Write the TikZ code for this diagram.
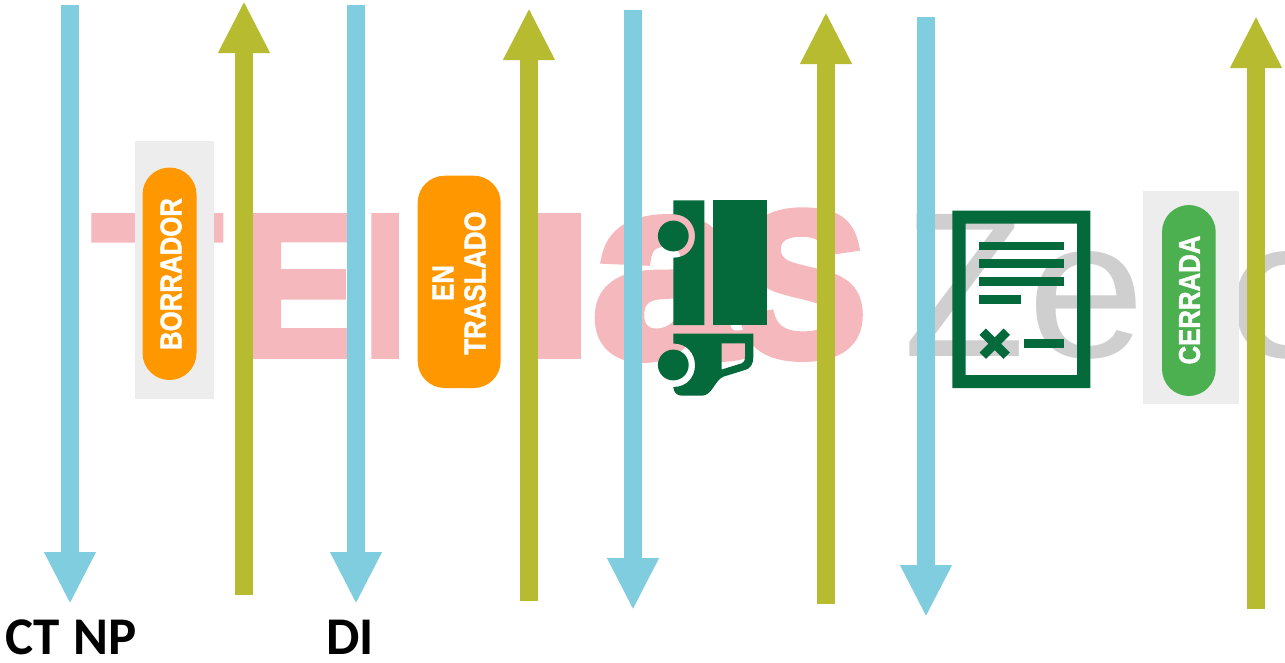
\documentclass[tikz,border=0pt]{standalone}
\usepackage{graphicx}
\usepackage{fontspec}
\setmainfont{Liberation Sans}[BoldFont={Liberation Sans Bold}]
\newfontfamily\heavyfont{Liberation Sans Bold}[FakeBold=4]
\newfontfamily\statusfont{Liberation Sans Bold}[FakeBold=1.5]
\newfontfamily\labelfont{Carlito}
\usetikzlibrary{arrows.meta}
\definecolor{flowblue}{HTML}{7FCDDE}
\definecolor{flowolive}{HTML}{B6BB30}
\definecolor{markpink}{HTML}{F5B8BD}
\definecolor{markgrey}{HTML}{CFCFCF}
\definecolor{panelgrey}{HTML}{EDEDED}
\definecolor{statusorange}{HTML}{FF9800}
\definecolor{statusgreen}{HTML}{4CAF50}
\definecolor{icongreen}{HTML}{046A3C}
\tikzset{
  flow/.style={line width=18pt,-{Triangle[width=48pt,length=52pt]}},
  downflow/.style={flow,draw=flowblue,color=flowblue},
  upflow/.style={flow,draw=flowolive,color=flowolive},
  markletter/.style={inner sep=0pt,anchor=south west},
  pinkmark/.style={markletter,text=markpink},
  greymark/.style={markletter,text=markgrey},
  panel/.style={fill=panelgrey,draw=none},
  pill/.style={draw=none,rounded corners=27pt},
  statustext/.style={text=white,font=\statusfont\fontsize{30}{30}\selectfont,inner sep=0pt,rotate=90,transform shape,xscale=.86},
  caption/.style={font=\labelfont\bfseries\fontsize{53}{53}\selectfont,text=black,inner sep=0pt,anchor=base west},
  iconfill/.style={fill=icongreen,draw=none}
}
\begin{document}
\begin{tikzpicture}[x=1pt,y=-1pt]
\useasboundingbox (0,0) rectangle (1285,662);
\clip (0,0) rectangle (1285,662);
% watermark
\begin{scope}
\clip (0,213) rectangle (1285,358);
\node[pinkmark] (wmT) at (93,357) {\resizebox{128pt}{141pt}{\heavyfont T}};
\node[pinkmark] (wmE) at (240,355) {\resizebox{118pt}{139pt}{\heavyfont E}};
\node[pinkmark] (wmM) at (358,355) {\resizebox{236pt}{139pt}{\heavyfont M}};
\end{scope}
\node[pinkmark] (wmA) at (592,358) {\resizebox{150pt}{136pt}{\heavyfont a}};
\node[pinkmark] (wmS) at (738,358) {\resizebox{128pt}{144pt}{\heavyfont S}};
\node[greymark] (wmZ) at (903,357) {\resizebox{122pt}{142pt}{Z}};
\node[greymark] (wmX) at (1027,360) {\resizebox{118pt}{106pt}{e}};
\node[greymark] (wmC) at (1226,360) {\resizebox{118pt}{106pt}{c}};
% mask and panels
\fill[white] (399,170) rectangle (520,395);
\fill[panel] (135,141) rectangle (214,399);
\fill[panel] (1143,191) rectangle (1239,404);
% status pills
\fill[pill,statusorange] (142.5,167.5) rectangle (196.5,380);
\node[statustext] (borrador) at (171,274) {BORRADOR};
\fill[pill,statusorange] (417.7,175.7) rectangle (500.7,388);
\node[statustext] (en) at (443,283) {EN};
\node[statustext] (traslado) at (475,283) {TRASLADO};
\fill[pill,statusgreen] (1162,205) rectangle (1215.7,396);
\node[statustext] (cerrada) at (1189.5,300) {CERRADA};
% truck icon
\fill[iconfill] (673.3,200.3) -- (704.3,200.3) -- (704.3,325) -- (673.3,325) -- (673.3,257.7)
  .. controls (702.2,257.7) and (702.2,214.3) .. (673.3,214.3) -- cycle;
\fill[iconfill] (713.3,200.3) rectangle (766.7,325);
\fill[iconfill] (673.3,236) circle[radius=15.4];
\fill[iconfill,even odd rule] (673.3,333.7) -- (753.3,333.7) -- (753.3,356.7)
  .. controls (753.3,365) and (750,368.5) .. (745,370) -- (723.3,376.7)
  .. controls (715,380) and (712,395.7) .. (702,395.7) -- (681.7,395.7)
  .. controls (676.5,395.7) and (673.3,391.5) .. (673.3,387)
  .. controls (702.2,387) and (702.2,343.5) .. (673.3,343.5) -- cycle
  (721.7,343.3) -- (745,343.3) -- (745,356.7)
  .. controls (745,361) and (743.5,362.5) .. (741.7,363.3) -- (721.7,369.5) -- cycle;
\fill[iconfill] (673.3,365) circle[radius=15.4];
% document icon
\fill[iconfill,even odd rule] (952.3,210.7) rectangle (1090.3,388) (965.7,223.7) rectangle (1077,375);
\fill[iconfill] (979,241.7) rectangle (1063.7,250.3);
\fill[iconfill] (979,259.3) rectangle (1063.7,268);
\fill[iconfill] (979,277.3) rectangle (1063.7,286);
\fill[iconfill] (979,295) rectangle (1021.3,303.7);
\fill[iconfill] (1023.7,339.3) rectangle (1063.7,348);
\draw[icongreen,line width=9pt] (982.7,331.7) -- (1006.7,355.7);
\draw[icongreen,line width=9pt] (1006.7,331.7) -- (982.7,355.7);
% flows
\coordinate (d1a) at (70,5);      \coordinate (d1b) at (70,604);
\coordinate (u1a) at (244,595);   \coordinate (u1b) at (244,1);
\coordinate (d2a) at (356,5);     \coordinate (d2b) at (356,604);
\coordinate (u2a) at (529,601);   \coordinate (u2b) at (529,8);
\coordinate (d3a) at (633,10);    \coordinate (d3b) at (633,610);
\coordinate (u3a) at (826,604);   \coordinate (u3b) at (826,12);
\coordinate (d4a) at (926,17);    \coordinate (d4b) at (926,617);
\coordinate (u4a) at (1256,609);  \coordinate (u4b) at (1256,16);
\draw[downflow] (d1a) -- (d1b);
\draw[upflow] (u1a) -- (u1b);
\draw[downflow] (d2a) -- (d2b);
\draw[upflow] (u2a) -- (u2b);
\draw[downflow] (d3a) -- (d3b);
\draw[upflow] (u3a) -- (u3b);
\draw[downflow] (d4a) -- (d4b);
\draw[upflow] (u4a) -- (u4b);
% captions
\node[caption] (ctnp) at (5,654) {CT\hspace{2pt} NP};
\node[caption] (di) at (326,654) {DI};
\end{tikzpicture}
\end{document}
